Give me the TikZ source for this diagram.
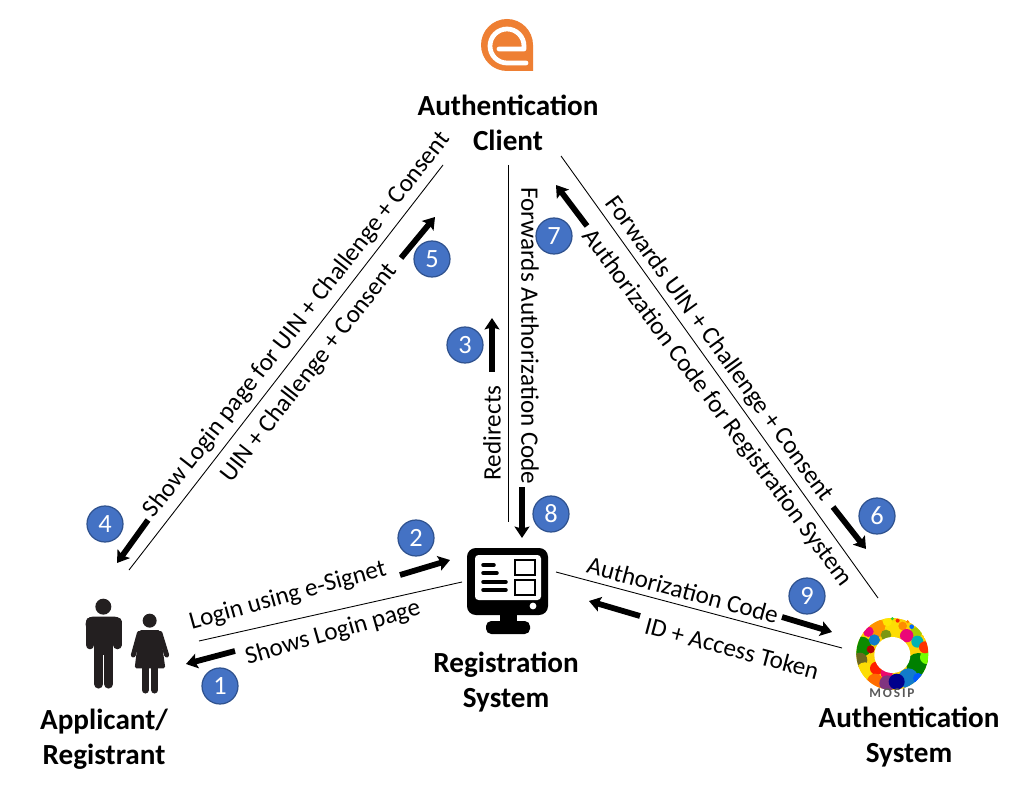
\documentclass[tikz,border=0pt]{standalone}
\usepackage{fontspec}
\setmainfont{Carlito}
\usetikzlibrary{arrows.meta, positioning}
\definecolor{stepblue}{HTML}{4472C4}
\definecolor{stepedge}{HTML}{2F528F}
\definecolor{logoorange}{HTML}{EE7F33}
\definecolor{iconblack}{HTML}{231F20}
\tikzset{
  actorname/.style={font=\fontsize{16.6}{20}\selectfont\bfseries, align=center, text=black, inner sep=0pt},
  msglabel/.style={font=\fontsize{14.3}{16}\selectfont, inner sep=0pt},
  stepnum/.style={circle, draw=stepedge, line width=0.7pt, fill=stepblue, text=white, minimum size=0.72cm, inner sep=0pt, font=\fontsize{15}{16}\selectfont},
  flowline/.style={draw=black, line width=0.5pt},
  flowarrow/.style={draw=black, line width=3.3pt, -{Stealth[length=6.5pt, width=8.5pt, inset=1.2pt]}},
}
\begin{document}
\begin{tikzpicture}[x=0.02cm, y=-0.02cm]
  \path[use as bounding box, fill=white] (0,0) rectangle (1024,790);

  % Actor names
  \node[actorname] (clientname) at (508,123) {Authentication\\Client};
  \node[actorname] (regname) at (506,682) {Registration\\System};
  \node[actorname] (applicantname) at (104,739) {Applicant/\\Registrant};
  \node[actorname] (authname) at (909,737) {Authentication\\System};

  % Thin lines
  \coordinate (la1) at (129,570);  \coordinate (la2) at (443,165);
  \coordinate (lb1) at (199,641);  \coordinate (lb2) at (462,582);
  \coordinate (lc1) at (508,165);  \coordinate (lc2) at (508,522);
  \coordinate (ld1) at (561,156);  \coordinate (ld2) at (878,598);
  \coordinate (le1) at (556,572);  \coordinate (le2) at (842,648);
  \draw[flowline] (la1) -- (la2);
  \draw[flowline] (lb1) -- (lb2);
  \draw[flowline] (lc1) -- (lc2);
  \draw[flowline] (ld1) -- (ld2);
  \draw[flowline] (le1) -- (le2);

  % Message labels
  \node[msglabel, rotate=15.5] (msglogin) at (288,596) {Login using e-Signet};
  \node[msglabel, rotate=16] (msgshows) at (333,633) {Shows Login page};
  \node[msglabel, rotate=52] (msgpage) at (297,325) {Show Login page for UIN + Challenge + Consent};
  \node[msglabel, rotate=52] (msguin) at (309,373) {UIN + Challenge + Consent};
  \node[msglabel, rotate=90] (msgredirect) at (492,433) {Redirects};
  \node[msglabel, rotate=-90] (msgforward) at (530,336) {Forwards Authorization Code};
  \node[msglabel, rotate=-54] (msgfwduin) at (719,349) {Forwards UIN + Challenge + Consent};
  \node[msglabel, rotate=-53.5] (msgcode) at (717,408) {Authorization Code for Registration System};
  \node[msglabel, rotate=-15] (msgauth) at (683,590) {Authorization Code};
  \node[msglabel, rotate=-15] (msgtoken) at (732,648) {ID + Access Token};

  % Thick arrows
  \coordinate (a1s) at (235,651);  \coordinate (a1e) at (186,664);
  \coordinate (a2s) at (400,575);  \coordinate (a2e) at (450,560);
  \coordinate (a3s) at (492,372);  \coordinate (a3e) at (492,318);
  \coordinate (a4s) at (148,520);  \coordinate (a4e) at (117,563);
  \coordinate (a5s) at (401,258);  \coordinate (a5e) at (435,217);
  \coordinate (a6s) at (833,507);  \coordinate (a6e) at (866,549);
  \coordinate (a7s) at (587,226);  \coordinate (a7e) at (556,185);
  \coordinate (a8s) at (522,487);  \coordinate (a8e) at (522,538);
  \coordinate (a9s) at (782,617);  \coordinate (a9e) at (832,632);
  \coordinate (a10s) at (640,616); \coordinate (a10e) at (589,601);
  \foreach \arrowname in {a1,a2,a3,a4,a5,a6,a7,a8,a9,a10}
    \draw[flowarrow] (\arrowname s) -- (\arrowname e);

  % Step numbers
  \node[stepnum] (s1) at (220,686) {1};
  \node[stepnum] (s2) at (416,538) {2};
  \node[stepnum] (s3) at (465,345) {3};
  \node[stepnum] (s4) at (105,524) {4};
  \node[stepnum] (s5) at (432,259) {5};
  \node[stepnum] (s6) at (877,516) {6};
  \node[stepnum] (s7) at (554,236) {7};
  \node[stepnum] (s8) at (551,514) {8};
  \node[stepnum] (s9) at (807,596) {9};

  % Client logo
  \fill[logoorange] (533,71) -- (507,71) arc[start angle=90, end angle=360, radius=26] -- cycle;
  \draw[white, line width=2.7pt, line join=round, line cap=round] (526,63) -- (507,63) arc[start angle=90, end angle=360, radius=17] -- (524,49) -- (499,49);

  % People
  \begin{scope}[shift={(60,500)}, xscale=1/3, yscale=1/3, iconblack]
    \fill (130,320) circle (24);
    \fill[rounded corners=4pt] (77,350) -- (185,350) -- (185,395) -- (77,395) -- cycle;
    \fill (103,360) rectangle (159,465);
    \draw[line width=4.9pt, line cap=round] (90,365) -- (90,435);
    \draw[line width=4.9pt, line cap=round] (172,365) -- (172,435);
    \draw[line width=5.2pt, line cap=round] (116,450) -- (116,552);
    \draw[line width=5.2pt, line cap=round] (146,450) -- (146,552);
    \fill (269,362) circle (21);
    \fill[rounded corners=1pt] (238,390) -- (300,390) -- (316,505) -- (224,505) -- cycle;
    \draw[line width=2.8pt, line cap=round] (238,400) -- (220,465);
    \draw[line width=2.8pt, line cap=round] (300,400) -- (320,465);
    \draw[line width=4pt, line cap=round] (256,505) -- (256,570);
    \draw[line width=4pt, line cap=round] (284,505) -- (284,570);
  \end{scope}

  % Monitor
  \fill[black, rounded corners=5pt] (467,548) rectangle (548,615);
  \fill[white, rounded corners=2pt] (475,555) rectangle (541,600);
  \fill[black] (500,612) rectangle (517,624);
  \fill[black, rounded corners=3pt] (486,621) rectangle (530,634);
  \fill[white] (533,606) circle (3.4);
  \draw[black, line width=2pt, line cap=round] (483,565) -- (494,565);
  \draw[black, line width=2pt, line cap=round] (483,573) -- (497,573);
  \draw[black, line width=2pt, line cap=round] (483,582) -- (506,582);
  \draw[black, line width=2pt, line cap=round] (483,590) -- (506,590);
  \draw[black, line width=1.2pt] (515,560) rectangle (535,575);
  \draw[black, line width=1.2pt] (515,580) rectangle (535,595);

  % MOSIP ring
  \begin{scope}[shift={(780,570)}, xscale=1/3, yscale=1/3]
    \begin{scope}
      \clip (337,252) circle (108);
      \fill[yellow!70!orange] (337,252) circle (108);
      \foreach \bx/\by/\br/\bc in {
        295/175/26/orange!85!yellow, 340/180/26/yellow!80!orange, 322/155/14/yellow!90!orange, 368/168/13/orange!90!yellow,
        407/190/18/lime!60!olive, 245/230/30/green!55!black!90!olive, 265/185/16/magenta!85!red,
        283/210/17/cyan!60!blue, 318/195/16/olive!70!green, 272/238/12/red!70!black,
        240/270/22/olive!70!black, 255/305/28/yellow!80!orange, 415/285/36/green!50!black,
        440/262/20/lime!60!green, 290/295/20/red!75!orange, 285/335/24/orange!85!red,
        320/310/18/magenta!70!red, 322/340/24/violet!60!gray, 385/325/30/cyan!60!blue,
        350/335/24/blue!55!black, 415/325/16/blue!65!cyan, 380/197/20/magenta!80!red,
        412/215/18/teal!60!cyan, 435/232/18/red!60!orange}
        \fill[\bc] (\bx,\by) circle (\br);
    \end{scope}
    \fill[white] (337,255) circle (54);
    \foreach \bx/\by/\br/\bc in {337/146/5/green!60!gray, 353/152/6/red!70!orange, 395/170/7/blue!60!cyan, 383/155/5/orange}
      \fill[\bc] (\bx,\by) circle (\br);
  \end{scope}
  \node[inner sep=0pt, text=black!65, font=\fontsize{7.6}{8}\selectfont\bfseries\addfontfeature{LetterSpace=14}] (mosiptext) at (892,693) {MOSIP};
\end{tikzpicture}
\end{document}
